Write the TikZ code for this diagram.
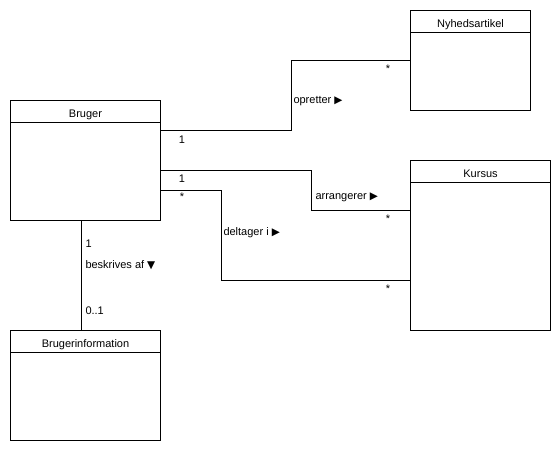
\documentclass[tikz,border=0pt]{standalone}
\usepackage{fontspec}
\setmainfont{Liberation Sans}
\newfontfamily\symfont{DejaVu Sans}
\usetikzlibrary{positioning}
\newcommand{\rarr}{{\symfont\fontsize{10.5}{12}\selectfont ▶}}
\newcommand{\darr}{{\symfont\fontsize{10.5}{12}\selectfont ▼}}
\begin{document}
\begin{tikzpicture}[x=1pt, y=-1pt, line width=1pt,
    classbox/.style={draw, anchor=north west, inner sep=0pt},
    title/.style={anchor=base, inner sep=0pt, font=\fontsize{11}{13}\selectfont},
    lbl/.style={anchor=base west, inner sep=0pt, font=\fontsize{11}{13}\selectfont},
    mult/.style={anchor=base, inner sep=0pt, font=\fontsize{11}{13}\selectfont}]
  \useasboundingbox (0,0) rectangle (560,450);
  % classes
  \node[classbox, minimum width=150pt, minimum height=120pt] (bruger) at (10,100) {};
  \node[classbox, minimum width=120pt, minimum height=100pt] (nyhed) at (410,10) {};
  \node[classbox, minimum width=140pt, minimum height=170pt] (kursus) at (410,160) {};
  \node[classbox, minimum width=150pt, minimum height=110pt] (info) at (10,330) {};
  \foreach \c in {bruger, nyhed, kursus, info}
    \draw ([yshift=-22pt]\c.north west) -- ([yshift=-22pt]\c.north east);
  \node[title] at ([yshift=-17pt]bruger.north) {Bruger};
  \node[title] at ([yshift=-17pt]nyhed.north) {Nyhedsartikel};
  \node[title] at ([yshift=-17pt]kursus.north) {Kursus};
  \node[title] at ([yshift=-17pt]info.north) {Brugerinformation};
  % associations
  \draw ([yshift=-30pt]bruger.north east) -- ++(130,0) |- ([yshift=-50pt]nyhed.north west);
  \draw ([yshift=-70pt]bruger.north east) -- ++(150,0) |- ([yshift=-50pt]kursus.north west);
  \draw ([yshift=-90pt]bruger.north east) -- ++(60,0) |- ([yshift=-120pt]kursus.north west);
  \draw ([xshift=-4.5pt]bruger.south) -- ([xshift=-4.5pt]info.north);
  % labels
  \node[mult] (m1) at (182,143) {1};
  \node[lbl] (opr) at (293,103) {opretter \rarr};
  \node[mult] (m2) at (388,72) {*};
  \node[mult] (m3) at (182,182) {1};
  \node[lbl] (arr) at (315,199) {arrangerer \rarr};
  \node[mult] (m4) at (388,222) {*};
  \node[mult] (m5) at (182,200) {*};
  \node[lbl] (del) at (223,235) {deltager i \rarr};
  \node[mult] (m6) at (388,292) {*};
  \node[lbl] (m7) at (85,247) {1};
  \node[lbl] (bes) at (85,268) {beskrives af \darr};
  \node[lbl] (m8) at (85,314) {0..1};
\end{tikzpicture}
\end{document}
